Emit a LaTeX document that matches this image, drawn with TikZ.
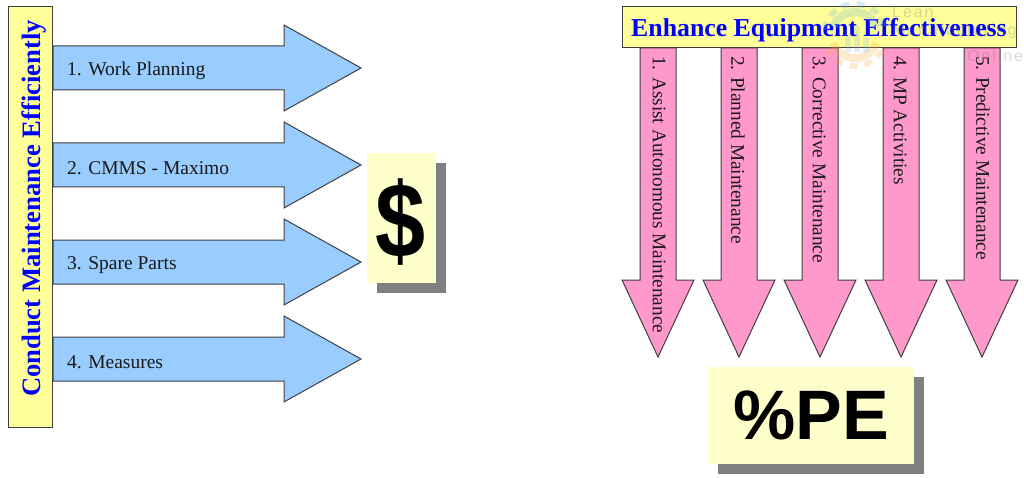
\documentclass[tikz,border=0pt]{standalone}
\usepackage{fontspec}
\usepackage{graphicx}
\setmainfont{Liberation Serif}
\newfontfamily\headfont{Liberation Sans}
\definecolor{hyellow}{HTML}{FFFF99}
\definecolor{pyellow}{HTML}{FFFFCC}
\definecolor{ablue}{HTML}{99CCFF}
\definecolor{apink}{HTML}{FF99CC}
\definecolor{shadowgrey}{HTML}{808080}
\definecolor{wmblue}{HTML}{6FB1DC}
\definecolor{wmorange}{HTML}{F4A63A}
\tikzset{
  x=1pt,y=-1pt,
  titlebox/.style={draw=black!75,fill=hyellow,line width=1pt,inner sep=0pt,text=blue,font=\bfseries\fontsize{25.8}{28}\selectfont},
  outline/.style={draw=black!75,line width=1pt,line join=miter},
  bluearrow/.style={outline,fill=ablue},
  pinkarrow/.style={outline,fill=apink},
  paper/.style={fill=pyellow},
  shade/.style={fill=shadowgrey},
  armlabel/.style={inner sep=0pt,text=black!90,font=\fontsize{19.5}{21}\selectfont},
  vlabel/.style={inner sep=0pt,text=black!90,font=\fontsize{19.3}{21}\selectfont,rotate=-90,anchor=west},
  bigtext/.style={inner sep=0pt,text=black},
  wmtext/.style={inner sep=0pt,anchor=west,text=black!60,opacity=.25,font=\headfont\fontsize{16}{17}\selectfont\addfontfeature{LetterSpace=12}},
  wmring/.style={opacity=.25,line width=8pt},
  wmteeth/.style={opacity=.25,line width=6pt,dash pattern=on 8pt off 7pt},
  wmbar/.style={opacity=.22,fill=wmblue},
}
\newcommand{\harrow}[1]{%
  \draw[bluearrow] (53,#1-22) -- (284,#1-22) -- (284,#1-43) -- (361,#1) -- (284,#1+43) -- (284,#1+22) -- (53,#1+22) -- cycle;}
\newcommand{\varrow}[1]{%
  \draw[pinkarrow] (#1-18,48) -- (#1+18,48) -- (#1+18,280) -- (#1+36,280) -- (#1,357) -- (#1-36,280) -- (#1-18,280) -- cycle;}
\begin{document}
\begin{tikzpicture}
\useasboundingbox (0,0) rectangle (1024,478);
% left arrows
\harrow{68}\harrow{165}\harrow{262}\harrow{359}
\node[armlabel,anchor=west] (a1) at (67,71) {1. Work Planning};
\node[armlabel,anchor=west] (a2) at (67,168) {2. CMMS - Maximo};
\node[armlabel,anchor=west] (a3) at (67,265) {3. Spare Parts};
\node[armlabel,anchor=west] (a4) at (67,362) {4. Measures};
% left title
\node[titlebox,minimum width=44pt,minimum height=420pt] (lt) at (30,217) {};
\node[inner sep=0pt,text=blue,font=\bfseries\fontsize{26.6}{28}\selectfont,rotate=90] (ltt) at (34,208.5) {Conduct Maintenance Efficiently};
% dollar
\fill[shade] (377,163) rectangle (446,293);
\fill[paper] (367,153) rectangle (436,283);
\node[bigtext,font=\headfont\bfseries\fontsize{90}{96}\selectfont] (dollar) at (401,222) {\scalebox{1}[1.18]{\$}};
% right arrows
\varrow{658}\varrow{739}\varrow{820}\varrow{901}\varrow{982}
\node[vlabel] (b1) at (659,56) {1. Assist Autonomous Maintenance};
\node[vlabel] (b2) at (738,56) {2. Planned Maintenance};
\node[vlabel] (b3) at (819,56) {3. Corrective Maintenance};
\node[vlabel] (b4) at (900,56) {4. MP Activities};
\node[vlabel] (b5) at (983,56) {5. Predictive Maintenance};
% right title
\node[titlebox,minimum width=394pt,minimum height=41pt,text depth=0pt] (rt) at (819,27.5) {Enhance Equipment Effectiveness};
% %PE
\fill[shade] (718,377) rectangle (924,474);
\fill[paper] (708,367) rectangle (914,464);
\node[bigtext,font=\headfont\bfseries\fontsize{70}{74}\selectfont] (pe) at (811,415) {\%PE};
% watermark
\coordinate (gear) at (855,35);
\draw[wmring,draw=wmblue] (gear) ++(-160:23) arc[start angle=-160,end angle=-20,radius=23];
\draw[wmring,draw=wmorange] (gear) ++(20:23) arc[start angle=20,end angle=160,radius=23];
\draw[wmteeth,draw=wmblue] (gear) ++(-170:31) arc[start angle=-170,end angle=-10,radius=31];
\draw[wmteeth,draw=wmorange] (gear) ++(30:31) arc[start angle=30,end angle=150,radius=31];
\fill[wmbar] (845,34) rectangle (851,52);
\fill[wmbar] (854,26) rectangle (860,52);
\fill[wmbar] (863,38) rectangle (869,52);
\node[wmtext] (w1) at (892,12) {Lean};
\node[wmtext] (w2) at (892,31) {Manufacturing};
\node[wmtext] (w3) at (967,56) {Online};
\end{tikzpicture}
\end{document}
